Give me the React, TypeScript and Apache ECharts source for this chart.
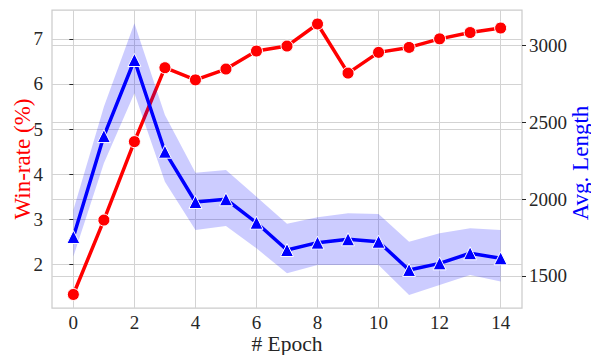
import React, { useEffect, useRef } from "react";
import * as echarts from "echarts";

const epochs = [0, 1, 2, 3, 4, 5, 6, 7, 8, 9, 10, 11, 12, 13, 14];
const winRate = [1.33, 2.98, 4.72, 6.36, 6.09, 6.33, 6.73, 6.84, 7.33, 6.24, 6.7, 6.81, 7.0, 7.14, 7.24];
const avgLength = [1753, 2411, 2907, 2309, 1981, 1999, 1846, 1668, 1716, 1738, 1722, 1538, 1581, 1647, 1614];
const lengthUpper = [1929, 2602, 3146, 2548, 2172, 2190, 2016, 1840, 1881, 1907, 1903, 1722, 1777, 1810, 1799];
const lengthLower = [1625, 2233, 2690, 2113, 1799, 1825, 1679, 1516, 1570, 1570, 1570, 1375, 1440, 1505, 1462];
const xTicks = [0, 2, 4, 6, 8, 10, 12, 14];
const leftTicks = [2, 3, 4, 5, 6, 7];
const rightTicks = [1500, 2000, 2500, 3000];

const FONT = "Liberation Serif";
const TXT = "#262626";
const GRID = "#d3d3d3";

export default function App() {
  const ref = useRef<HTMLDivElement>(null);
  useEffect(() => {
    document.body.style.margin = "0";
    const chart = echarts.init(ref.current!, undefined, { renderer: "svg" });
    const labelStyle = { color: TXT, fontSize: 19, fontFamily: FONT, formatter: (v: number) => String(v) };
    chart.setOption({
      animation: false,
      textStyle: { fontFamily: FONT },
      grid: {
        left: 52,
        right: 69,
        top: 10,
        bottom: 47,
        show: true,
        borderColor: "#cccccc",
        borderWidth: 1.25,
        backgroundColor: "transparent",
      },
      xAxis: {
        type: "value",
        min: -0.7,
        max: 14.7,
        axisLine: { show: false },
        axisTick: { show: false, customValues: xTicks },
        axisLabel: { ...labelStyle, customValues: xTicks, margin: 5 },
        splitLine: { show: true, lineStyle: { color: GRID, width: 1 } },
      },
      yAxis: [
        {
          type: "value",
          min: 1.03,
          max: 7.64,
          axisLine: { show: false },
          axisTick: { show: true, customValues: leftTicks, length: 4, lineStyle: { color: TXT, width: 1 } },
          axisLabel: { ...labelStyle, customValues: leftTicks, margin: 9 },
          splitLine: { show: true, lineStyle: { color: GRID, width: 1 } },
        },
        {
          type: "value",
          min: 1290,
          max: 3233,
          position: "right",
          axisLine: { show: false },
          axisTick: { show: true, customValues: rightTicks, length: 4, lineStyle: { color: TXT, width: 1 } },
          axisLabel: { ...labelStyle, customValues: rightTicks, margin: 7 },
          splitLine: { show: true, lineStyle: { color: GRID, width: 1 } },
        },
      ],
      series: [
        {
          name: "Win-rate",
          type: "line",
          yAxisIndex: 0,
          data: epochs.map((e, i) => [e, winRate[i]]),
          symbol: "circle",
          symbolSize: 12,
          lineStyle: { color: "#ff0000", width: 3.5 },
          itemStyle: { color: "#ff0000", borderColor: "#ffffff", borderWidth: 1 },
          z: 2,
        },
        {
          name: "Length band",
          type: "custom",
          yAxisIndex: 1,
          data: epochs.map((e, i) => [e, lengthLower[i], lengthUpper[i]]),
          encode: { x: 0, y: [1, 2] },
          renderItem: (params: any, api: any) => {
            if (params.dataIndex !== 0) return null;
            const upper = epochs.map((e, i) => api.coord([e, lengthUpper[i]]));
            const lower = epochs.map((e, i) => api.coord([e, lengthLower[i]])).reverse();
            return {
              type: "polygon",
              shape: { points: upper.concat(lower) },
              style: { fill: "rgba(0,0,255,0.2)" },
            };
          },
          z: 3,
          silent: true,
        },
        {
          name: "Avg. Length",
          type: "line",
          yAxisIndex: 1,
          data: epochs.map((e, i) => [e, avgLength[i]]),
          symbol: "triangle",
          symbolSize: 13,
          lineStyle: { color: "#0000ff", width: 3.5 },
          itemStyle: { color: "#0000ff", borderColor: "#ffffff", borderWidth: 1 },
          z: 4,
        },
      ],
      graphic: [
        {
          type: "text",
          x: 22,
          y: 159,
          rotation: Math.PI / 2,
          style: { text: "Win-rate (%)", fill: "#ff0000", font: `23px ${FONT}`, align: "center", verticalAlign: "middle" },
        },
        {
          type: "text",
          x: 580,
          y: 163,
          rotation: Math.PI / 2,
          style: { text: "Avg. Length", fill: "#0000ff", font: `23px ${FONT}`, align: "center", verticalAlign: "middle" },
        },
        {
          type: "text",
          x: 287,
          y: 344,
          style: { text: "# Epoch", fill: TXT, font: `21.5px ${FONT}`, align: "center", verticalAlign: "middle" },
        },
      ],
    });
    return () => chart.dispose();
  }, []);
  return <div ref={ref} style={{ width: 591, height: 355 }} />;
}
